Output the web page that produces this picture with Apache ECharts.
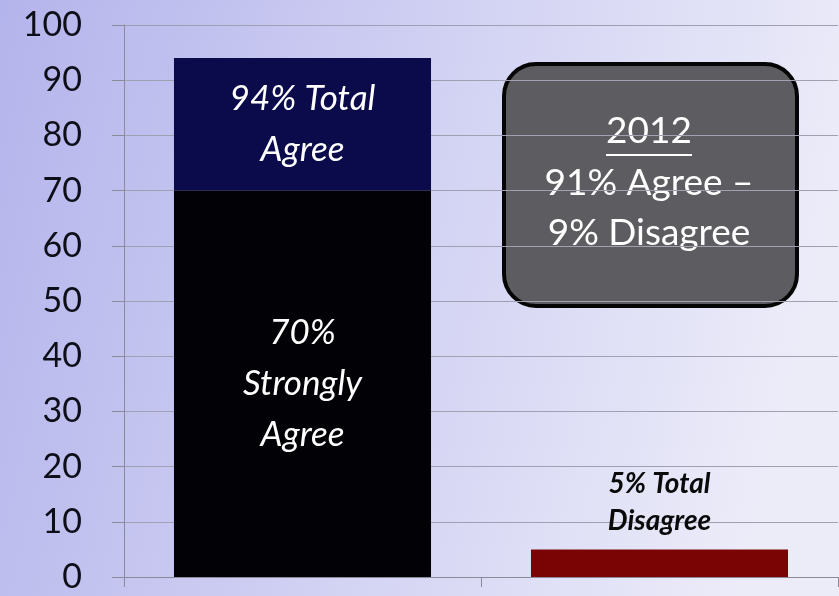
<!DOCTYPE html>
<html><head><meta charset="utf-8">
<script src="https://cdn.jsdelivr.net/npm/echarts@6/dist/echarts.min.js"></script>
<style>html,body{margin:0;padding:0;}#c{width:839px;height:596px;}</style>
</head><body><div id="c"></div>
<script>
const categories = ['Agree', 'Disagree'];
const stronglyAgree = [70, null];
const somewhatAgree = [24, null];
const totalDisagree = [null, 5];
const yTicks = [0, 10, 20, 30, 40, 50, 60, 70, 80, 90, 100];

const chart = echarts.init(document.getElementById('c'));
const FONT = 'Lato, "Open Sans", sans-serif';
chart.setOption({
  animation: false,
  backgroundColor: {
    type: 'linear', x: 0, y: 0, x2: 1, y2: 0.35,
    colorStops: [{offset: 0, color: '#b4b4ec'}, {offset: 0.5, color: '#d0d0f3'}, {offset: 1, color: '#ececf9'}]
  },
  grid: {left: 124, right: 1, top: 25, bottom: 19, containLabel: false},
  xAxis: {
    type: 'category', data: categories,
    axisLine: {lineStyle: {color: '#8a8a9a', width: 1}},
    axisTick: {show: true, alignWithLabel: false, length: 10, lineStyle: {color: '#8a8a9a'}},
    axisLabel: {show: false}
  },
  yAxis: {
    type: 'value', min: 0, max: 100, interval: 10,
    axisLine: {show: true, lineStyle: {color: '#8a8a9a'}},
    axisTick: {show: true, length: 12, lineStyle: {color: '#8a8a9a'}},
    splitLine: {lineStyle: {color: '#a0a0b2', width: 1}},
    axisLabel: {
      margin: 42, fontSize: 34, color: '#0e0e18', fontFamily: FONT,
      formatter: v => yTicks.includes(v) ? String(v) : ''
    }
  },
  series: [
    {
      type: 'bar', stack: 'a', data: stronglyAgree, barWidth: '72%',
      itemStyle: {color: '#010106'},
      label: {show: true, position: 'inside', formatter: '70%\nStrongly\nAgree',
        color: '#fff', fontSize: 35, fontStyle: 'italic', fontFamily: FONT, lineHeight: 51}
    },
    {
      type: 'bar', stack: 'a', data: somewhatAgree, barWidth: '72%',
      itemStyle: {color: '#0b0b4c'},
      label: {show: true, position: 'inside', formatter: '94% Total\nAgree',
        color: '#fff', fontSize: 35, fontStyle: 'italic', fontFamily: FONT, lineHeight: 51}
    },
    {
      type: 'bar', stack: 'a', data: totalDisagree, barWidth: '72%', barGap: '-100%',
      itemStyle: {color: '#7a0404'},
      label: {show: true, position: 'top', distance: 10, formatter: '5% Total\nDisagree',
        color: '#0a0a0a', fontSize: 28, fontStyle: 'italic', fontWeight: 'bold', fontFamily: FONT, lineHeight: 37}
    }
  ],
  graphic: [
    {
      type: 'rect', left: 502, top: 62,
      shape: {width: 293, height: 242, r: 32},
      style: {fill: '#5c5c61', stroke: '#050505', lineWidth: 4}
    },
    {
      type: 'text',
      style: {text: '2012', fill: '#fff', font: '37px ' + FONT, x: 649, y: 113, textAlign: 'center'}
    },
    {
      type: 'line', shape: {x1: 606, y1: 155, x2: 692, y2: 155},
      style: {stroke: '#fff', lineWidth: 2}
    },
    {
      type: 'text',
      style: {text: '91% Agree \u2013', fill: '#fff', font: '37px ' + FONT, x: 649, y: 165, textAlign: 'center'}
    },
    {
      type: 'text',
      style: {text: '9% Disagree', fill: '#fff', font: '37px ' + FONT, x: 649, y: 215, textAlign: 'center'}
    }
  ]
});
</script>
</body></html>
